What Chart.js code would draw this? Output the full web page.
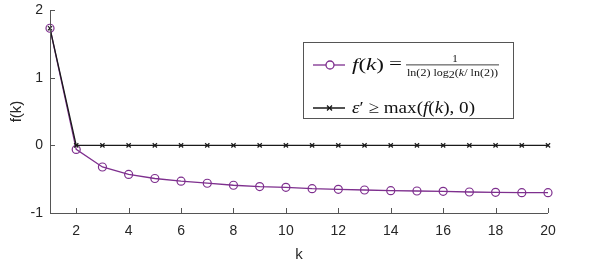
<!DOCTYPE html>
<html>
<head>
<meta charset="utf-8">
<script src="https://cdn.jsdelivr.net/npm/chart.js@4.4.1/dist/chart.umd.min.js"></script>
<style>
  html, body { margin: 0; padding: 0; background: #fff; }
  #wrap { width: 598px; height: 264px; position: relative; }
</style>
</head>
<body>
<div id="wrap"><canvas id="fkChart" width="598" height="264"></canvas></div>
<script>
const kValues = [1, 2, 3, 4, 5, 6, 7, 8, 9, 10, 11, 12, 13, 14, 15, 16, 17, 18, 19, 20];
const fValues = [1.73, -0.06, -0.32, -0.43, -0.49, -0.53, -0.56, -0.59, -0.61, -0.62,
                 -0.64, -0.65, -0.66, -0.67, -0.675, -0.68, -0.69, -0.695, -0.70, -0.70];
const epsValues = [1.73, 0, 0, 0, 0, 0, 0, 0, 0, 0, 0, 0, 0, 0, 0, 0, 0, 0, 0, 0];
const xTicks = [2, 4, 6, 8, 10, 12, 14, 16, 18, 20];
const yTicks = [-1, 0, 1, 2];

const purple = '#7E2F8E';
const axisColor = '#262626';
const serif = '"Liberation Serif", "DejaVu Serif", serif';

// inward tick marks + axis lines, MATLAB style
const innerTicks = {
  id: 'innerTicks',
  afterDraw(chart) {
    const { ctx, chartArea: a, scales: { x, y } } = chart;
    ctx.save();
    ctx.strokeStyle = '#555';
    ctx.lineWidth = 1;
    ctx.beginPath();
    ctx.moveTo(a.left + 0.5, a.top);
    ctx.lineTo(a.left + 0.5, a.bottom + 0.5);
    ctx.lineTo(a.right, a.bottom + 0.5);
    xTicks.forEach(v => {
      const px = Math.round(x.getPixelForValue(v)) + 0.5;
      ctx.moveTo(px, a.bottom);
      ctx.lineTo(px, a.bottom - 5);
    });
    yTicks.forEach(v => {
      const py = Math.round(y.getPixelForValue(v)) + 0.5;
      ctx.moveTo(a.left, py);
      ctx.lineTo(a.left + 5, py);
    });
    ctx.stroke();
    ctx.restore();
  }
};

// draw [text, italic] pieces squeezed/stretched to a target width
function drawRun(ctx, parts, x, base, size, width) {
  let total = 0;
  parts.forEach(p => {
    ctx.font = (p[1] ? 'italic ' : '') + size + 'px ' + serif;
    total += ctx.measureText(p[0]).width;
  });
  const s = width / total;
  ctx.save();
  ctx.translate(x, base);
  ctx.scale(s, 1);
  let dx = 0;
  parts.forEach(p => {
    ctx.font = (p[1] ? 'italic ' : '') + size + 'px ' + serif;
    ctx.fillText(p[0], dx, p[2] || 0);
    dx += ctx.measureText(p[0]).width;
  });
  ctx.restore();
}

// legend box with the math text
const mathLegend = {
  id: 'mathLegend',
  afterDraw(chart) {
    const ctx = chart.ctx;
    const bx = 303, by = 42, bw = 210, bh = 76;
    ctx.save();
    ctx.fillStyle = '#fff';
    ctx.fillRect(bx, by, bw, bh);
    ctx.strokeStyle = '#555';
    ctx.lineWidth = 1;
    ctx.strokeRect(bx + 0.5, by + 0.5, bw, bh);

    // row 1
    const y1 = 65;
    ctx.strokeStyle = purple;
    ctx.lineWidth = 1.3;
    ctx.beginPath();
    ctx.moveTo(313, y1); ctx.lineTo(345, y1);
    ctx.stroke();
    ctx.beginPath();
    ctx.arc(330, y1, 4, 0, Math.PI * 2);
    ctx.fillStyle = '#fff';
    ctx.fill();
    ctx.stroke();

    ctx.fillStyle = '#111';
    ctx.textBaseline = 'alphabetic';
    drawRun(ctx, [['f', true], ['(', false], ['k', true], [')', false]], 352, y1 + 5, 17, 32);
    drawRun(ctx, [['=', false]], 389, y1 + 4, 17, 13);

    // fraction
    ctx.font = '11px ' + serif;
    ctx.textAlign = 'center';
    ctx.fillText('1', 455, y1 - 3);
    ctx.textAlign = 'left';
    ctx.fillRect(406, y1 - 0.5, 93, 0.8);
    drawRun(ctx, [['ln(2) log', false], ['2', false, 2], ['(', false], ['k', true], ['/ ln(2))', false]],
      407, y1 + 11, 11, 91);

    // row 2
    const y2 = 108;
    ctx.strokeStyle = '#1a1a1a';
    ctx.beginPath();
    ctx.moveTo(313, y2); ctx.lineTo(345, y2);
    ctx.moveTo(327, y2 - 2.5); ctx.lineTo(332, y2 + 2.5);
    ctx.moveTo(327, y2 + 2.5); ctx.lineTo(332, y2 - 2.5);
    ctx.stroke();

    drawRun(ctx, [['ε', true], ['′ ', false], ['≥ ', false], ['max(', false], ['f', true], ['(', false],
      ['k', true], ['), 0)', false]], 352, y2 + 5, 17, 123);
    ctx.restore();
  }
};

const ctx = document.getElementById('fkChart').getContext('2d');
new Chart(ctx, {
  type: 'line',
  data: {
    labels: kValues,
    datasets: [
      {
        label: 'f(k)',
        data: kValues.map((k, i) => ({ x: k, y: fValues[i] })),
        borderColor: purple,
        backgroundColor: '#fff',
        borderWidth: 1.3,
        pointStyle: 'circle',
        pointRadius: 4,
        pointBorderWidth: 1.2,
        pointBorderColor: purple,
        pointBackgroundColor: 'rgba(255,255,255,0)',
        tension: 0,
        clip: false,
        order: 1
      },
      {
        label: 'eps',
        data: kValues.map((k, i) => ({ x: k, y: epsValues[i] })),
        borderColor: '#1a1a1a',
        borderWidth: 1.3,
        pointStyle: 'crossRot',
        pointRadius: 3,
        pointBorderWidth: 1.2,
        pointBorderColor: '#1a1a1a',
        tension: 0,
        clip: false,
        order: 0
      }
    ]
  },
  options: {
    responsive: false,
    animation: false,
    events: [],
    layout: { padding: { top: 10, right: 50, left: 8, bottom: 0 } },
    scales: {
      x: {
        type: 'linear',
        min: 1,
        max: 20,
        afterBuildTicks: s => { s.ticks = xTicks.map(v => ({ value: v })); },
        afterFit: s => { s.height = 51; s.paddingLeft = 0; s.paddingRight = 0; },
        grid: { display: false, drawTicks: false },
        border: { display: false },
        ticks: {
          color: axisColor,
          font: { family: '"Liberation Sans", Arial, sans-serif', size: 14 },
          padding: 10,
          maxRotation: 0
        },
        title: {
          display: true,
          text: 'k',
          color: axisColor,
          font: { family: '"Liberation Sans", Arial, sans-serif', size: 15 },
          padding: { top: 0, bottom: 0 }
        }
      },
      y: {
        min: -1,
        max: 2,
        afterBuildTicks: s => { s.ticks = yTicks.map(v => ({ value: v })); },
        afterFit: s => { s.width = 42; s.paddingTop = 0; s.paddingBottom = 0; },
        grid: { display: false, drawTicks: false },
        border: { display: false },
        ticks: {
          color: axisColor,
          font: { family: '"Liberation Sans", Arial, sans-serif', size: 14 },
          padding: 7
        },
        title: {
          display: true,
          text: 'f(k)',
          color: axisColor,
          font: { family: '"Liberation Sans", Arial, sans-serif', size: 15 },
          padding: { top: 0, bottom: 0 }
        }
      }
    },
    plugins: {
      legend: { display: false },
      tooltip: { enabled: false }
    }
  },
  plugins: [innerTicks, mathLegend]
});
</script>
</body>
</html>
